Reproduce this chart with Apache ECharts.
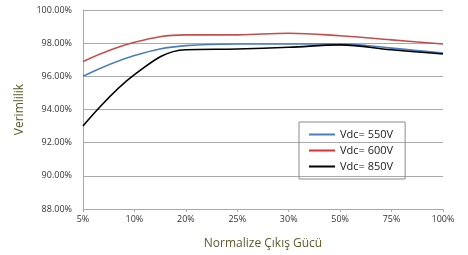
<!DOCTYPE html>
<html>
<head>
<meta charset="utf-8">
<script src="https://cdn.jsdelivr.net/npm/echarts@6/dist/echarts.min.js"></script>
<style>
  html, body { margin: 0; padding: 0; background: #fff; }
  #chart { width: 468px; height: 255px; }
</style>
</head>
<body>
<div id="chart"></div>
<script>
const categories = ['5%', '10%', '20%', '25%', '30%', '50%', '75%', '100%']
const vdc550 = [96.0, 97.25, 97.85, 97.95, 97.95, 97.95, 97.7, 97.4]
const vdc600 = [96.9, 98.05, 98.5, 98.5, 98.6, 98.45, 98.2, 97.95]
const vdc850 = [93.0, 96.1, 97.6, 97.65, 97.75, 97.9, 97.6, 97.35]
const seriesNames = ['Vdc= 550V', 'Vdc= 600V', 'Vdc= 850V']
const seriesColors = ['#4a7ebb', '#e03030', '#000000']
const lineColors = ['#4a7ebb', '#c0504d', '#000000']

const chart = echarts.init(document.getElementById('chart'))

function makeSeries(i, data) {
  return {
    name: seriesNames[i],
    type: 'line',
    smooth: 0.4,
    symbol: 'none',
    data: data,
    lineStyle: { color: lineColors[i], width: 1.6 },
    itemStyle: { color: seriesColors[i] }
  }
}

chart.setOption({
  animation: false,
  textStyle: { fontFamily: 'Open Sans' },
  grid: { left: 83, right: 25, top: 10, bottom: 45 },
  legend: {
    orient: 'vertical',
    left: 299,
    top: 122,
    width: 104,
    padding: [7, 12, 7, 10],
    borderColor: '#8c8c8c',
    borderWidth: 1,
    icon: 'rect',
    itemWidth: 26,
    itemHeight: 2,
    itemGap: 5,
    textStyle: { fontSize: 11, color: '#222', fontFamily: 'Open Sans' },
    data: seriesNames
  },
  xAxis: {
    type: 'category',
    boundaryGap: false,
    data: categories,
    name: 'Normalize Çıkış Gücü',
    nameLocation: 'middle',
    nameGap: 29,
    nameTextStyle: { color: '#5e5a2a', fontSize: 12 },
    axisLine: { lineStyle: { color: '#aaaaaa' } },
    axisTick: { show: true, length: 3, lineStyle: { color: '#aaaaaa' } },
    axisLabel: { color: '#333', fontSize: 9, margin: 6 }
  },
  yAxis: {
    type: 'value',
    min: 88,
    max: 100,
    interval: 2,
    name: 'Verimlilik',
    nameLocation: 'middle',
    nameGap: 57,
    nameTextStyle: { color: '#5e5a2a', fontSize: 12 },
    axisLine: { show: true, lineStyle: { color: '#aaaaaa' } },
    axisTick: { show: false },
    splitLine: { lineStyle: { color: '#aaaaaa' } },
    axisLabel: {
      color: '#333',
      fontSize: 9,
      margin: 11,
      formatter: (v) => v.toFixed(2) + '%'
    }
  },
  series: [
    makeSeries(0, vdc550),
    makeSeries(1, vdc600),
    makeSeries(2, vdc850)
  ]
})
</script>
</body>
</html>
